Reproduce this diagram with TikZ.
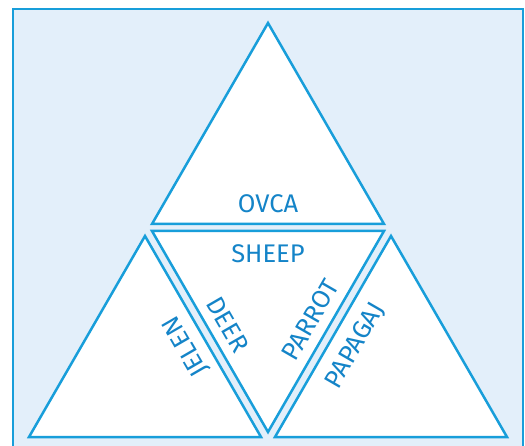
\documentclass[tikz,border=0pt]{standalone}
\usepackage{fontspec}
\setmainfont{Fira Sans}
\definecolor{lineblue}{RGB}{24,158,218}
\definecolor{textblue}{RGB}{20,132,200}
\definecolor{bgblue}{RGB}{227,239,250}
\begin{document}
\begin{tikzpicture}[x=1pt,y=-1pt,
  tri/.style={draw=lineblue,fill=white,line width=2.5pt,line join=miter},
  word/.style={text=textblue,font=\fontsize{25.5}{28}\selectfont,inner sep=0pt,text height=17.5pt,text depth=0pt,anchor=center}]
\useasboundingbox (0,0) rectangle (525,446);
\fill[bgblue] (13,9) rectangle (523,460);
\draw[lineblue,line width=2pt] (13,460) -- (13,9) -- (523,9) -- (523,460);
% top triangle
\coordinate (tA) at (268,23); \coordinate (tB) at (384,224); \coordinate (tC) at (152,224);
\draw[tri] (tA) -- (tB) -- (tC) -- cycle;
% middle inverted triangle
\coordinate (mA) at (152,231); \coordinate (mB) at (384,231); \coordinate (mC) at (268,432);
\draw[tri] (mA) -- (mB) -- (mC) -- cycle;
% left triangle
\coordinate (lA) at (145,236); \coordinate (lB) at (261,437); \coordinate (lC) at (29,437);
\draw[tri] (lA) -- (lB) -- (lC) -- cycle;
% right triangle
\coordinate (rA) at (391,236); \coordinate (rB) at (507,437); \coordinate (rC) at (275,437);
\draw[tri] (rA) -- (rB) -- (rC) -- cycle;
% words
\node[word] (ovca) at (268,204) {OVCA};
\node[word] (sheep) at (268,254) {SHEEP};
\node[word,rotate=120] (jelen) at (185,347) {JELEN};
\node[word,rotate=-60] (deer) at (228,325) {DEER};
\node[word,rotate=60] (parrot) at (310,320) {PARROT};
\node[word,rotate=60] (papagaj) at (354,345) {PAPAGAJ};
\end{tikzpicture}
\end{document}
